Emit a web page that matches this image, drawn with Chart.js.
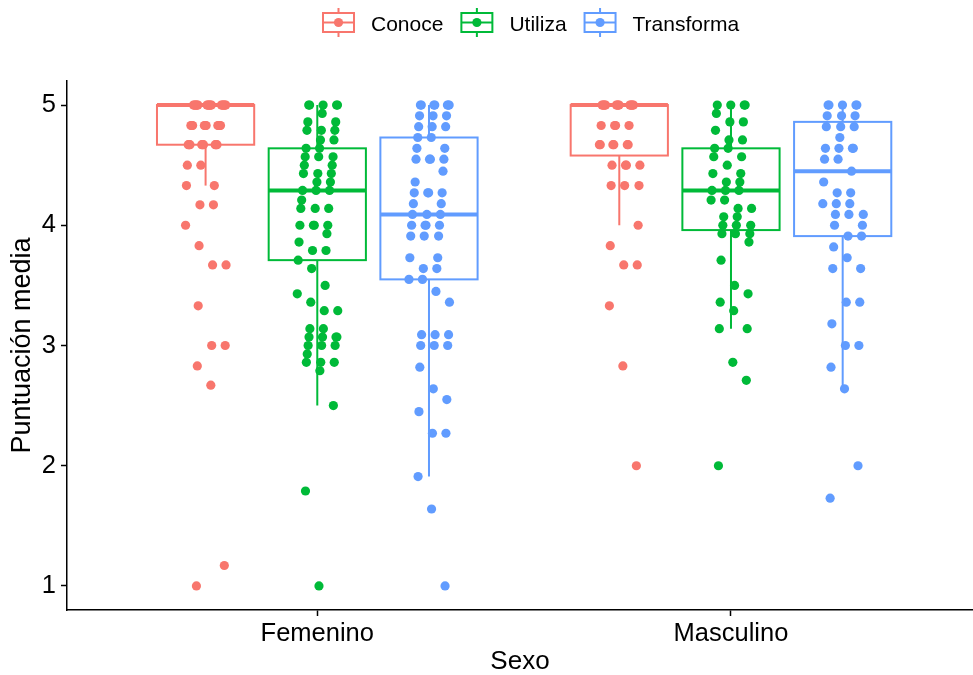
<!DOCTYPE html>
<html>
<head>
<meta charset="utf-8">
<script src="https://cdn.jsdelivr.net/npm/chart.js@4.4.0/dist/chart.umd.min.js"></script>
<style>
  html, body { margin: 0; padding: 0; background: #ffffff; }
  #wrap { width: 973px; height: 675px; }
</style>
</head>
<body>
<div id="wrap"><canvas id="grafico" width="973" height="675"></canvas></div>
<script>
// Categories and series
const sexos = ['Femenino', 'Masculino'];
const series = ['Conoce', 'Utiliza', 'Transforma'];
const colores = ['#F8766D', '#00BA38', '#619CFF'];
const yTicks = [1, 2, 3, 4, 5];

// Individual mean scores, Femenino
const conoceFem = [5,5,5,5,5,5,5,5,5,5,5,5,5,5,5,5,5,5,
  4.83,4.83,4.83,4.83,4.83,4.83,4.83,4.83,4.83,4.83,
  4.67,4.67,4.67,4.67,4.67,4.67,4.67,4.67,4.67,
  4.5,4.5,4.33,4.33,4.17,4.17,4,3.83,3.67,3.67,3.33,3,3,2.83,2.67,1.17,1];
const utilizaFem = [5,5,5,5,5,4.93,4.86,4.86,4.79,4.79,4.79,4.71,4.71,4.64,4.64,
  4.57,4.57,4.57,4.5,4.5,4.43,4.43,4.43,4.36,4.36,4.29,4.29,4.29,4.21,
  4.14,4.14,4.14,4,4,4,4,3.93,3.86,3.79,3.79,3.71,3.64,3.5,3.43,3.36,
  3.29,3.29,3.14,3.14,3.07,3.07,3.07,3.07,3,3,3,2.93,2.86,2.86,2.86,2.79,
  2.5,1.79,1];
const transformaFem = [5,5,5,5,5,5,5,4.91,4.91,4.91,4.82,4.82,4.82,4.73,4.73,
  4.64,4.64,4.55,4.55,4.55,4.55,4.45,4.36,4.27,4.27,4.27,4.27,4.18,4.18,
  4.09,4.09,4.09,4,4,4,4,3.91,3.91,3.91,3.73,3.73,3.64,3.64,3.55,3.55,
  3.45,3.36,3.09,3.09,3.09,3,3,3,2.82,2.64,2.55,2.45,2.27,2.27,1.91,1.64,1];

// Individual mean scores, Masculino
const conoceMas = [5,5,5,5,5,5,5,5,5,5,5,5,5,5,
  4.83,4.83,4.83,4.83,4.67,4.67,4.67,4.67,4.67,4.67,
  4.5,4.5,4.5,4.5,4.33,4.33,4.33,4,3.83,3.67,3.67,3.33,2.83,2];
const utilizaMas = [5,5,5,5,4.93,4.86,4.86,4.79,4.71,4.71,4.64,4.64,4.57,4.57,
  4.5,4.43,4.43,4.36,4.36,4.29,4.29,4.29,4.21,4.21,4.14,4.14,4.07,4.07,
  4,4,4,3.93,3.93,3.93,3.86,3.71,3.5,3.43,3.36,3.29,3.14,3.14,2.86,2.71,2];
const transformaMas = [5,5,5,5,5,4.91,4.91,4.91,4.82,4.82,4.82,4.73,
  4.64,4.64,4.64,4.64,4.55,4.55,4.45,4.36,4.27,4.27,4.18,4.18,4.18,
  4.09,4.09,4.09,4,4,3.91,3.91,3.82,3.73,3.64,3.64,3.36,3.36,3.18,3,3,
  2.82,2.64,2,1.73];

// Box summaries per series: [Femenino, Masculino]
const bigoteInf = { Conoce: [4.33, 4.0],  Utiliza: [2.5, 3.14],  Transforma: [1.91, 2.64] };
const cuartil1  = { Conoce: [4.67, 4.58], Utiliza: [3.71, 3.96], Transforma: [3.55, 3.91] };
const mediana   = { Conoce: [5, 5],       Utiliza: [4.29, 4.29], Transforma: [4.09, 4.45] };
const cuartil3  = { Conoce: [5, 5],       Utiliza: [4.64, 4.64], Transforma: [4.73, 4.86] };
const bigoteSup = { Conoce: [5, 5],       Utiliza: [5, 5],       Transforma: [5, 5] };

const puntos = {
  Conoce: [conoceFem, conoceMas],
  Utiliza: [utilizaFem, utilizaMas],
  Transforma: [transformaFem, transformaMas]
};

// Layout of the dodged groups (in x-axis units)
const DODGE = [-0.27, 0, 0.27];
const BOX_W = 0.235;
const JITTER = 0.05;
const FONT = '"Liberation Sans", Arial, Helvetica, sans-serif';

// Evenly spread horizontal offsets for the points (golden-ratio sequence)
function desplazamiento(i) {
  const f = ((i + 1) * 0.6180339887 + 0.37) % 1;
  return (f - 0.5) * 2 * JITTER;
}

const datasets = series.map((s, si) => {
  const data = [];
  puntos[s].forEach((valores, gi) => {
    valores.forEach((v, i) => {
      data.push({ x: gi + 1 + DODGE[si] + desplazamiento(i * 7 + gi * 3), y: v });
    });
  });
  return {
    label: s,
    data,
    backgroundColor: colores[si],
    borderColor: colores[si],
    borderWidth: 0,
    pointRadius: 4.6,
    pointHoverRadius: 4.6
  };
});

// Boxes and whiskers, drawn beneath the jittered points
const cajasPlugin = {
  id: 'cajas',
  beforeDatasetsDraw(chart) {
    const { ctx, scales: { x, y } } = chart;
    ctx.save();
    series.forEach((s, si) => {
      sexos.forEach((_, gi) => {
        const cx = gi + 1 + DODGE[si];
        const l = x.getPixelForValue(cx - BOX_W / 2);
        const r = x.getPixelForValue(cx + BOX_W / 2);
        const c = x.getPixelForValue(cx);
        const yLo = y.getPixelForValue(bigoteInf[s][gi]);
        const yQ1 = y.getPixelForValue(cuartil1[s][gi]);
        const yMed = y.getPixelForValue(mediana[s][gi]);
        const yQ3 = y.getPixelForValue(cuartil3[s][gi]);
        const yHi = y.getPixelForValue(bigoteSup[s][gi]);
        ctx.strokeStyle = colores[si];
        ctx.lineWidth = 2;
        ctx.beginPath();
        ctx.moveTo(c, yHi); ctx.lineTo(c, yQ3);
        ctx.moveTo(c, yQ1); ctx.lineTo(c, yLo);
        ctx.stroke();
        ctx.fillStyle = '#ffffff';
        ctx.fillRect(l, yQ3, r - l, yQ1 - yQ3);
        ctx.strokeRect(l, yQ3, r - l, yQ1 - yQ3);
        ctx.lineWidth = 4;
        ctx.beginPath();
        ctx.moveTo(l, yMed); ctx.lineTo(r, yMed);
        ctx.stroke();
      });
    });
    ctx.restore();
  }
};

// Legend at the top with boxplot key glyphs
const leyendaPlugin = {
  id: 'leyendaCajas',
  afterDraw(chart) {
    const ctx = chart.ctx;
    ctx.save();
    ctx.font = '21px ' + FONT;
    const keyW = 31, keyH = 19, keyTop = 13, gapTexto = 17, gapItem = 18;
    let xPos = 323;
    series.forEach((s, si) => {
      const col = colores[si];
      const cx = xPos + keyW / 2, cy = keyTop + keyH / 2;
      ctx.strokeStyle = col;
      ctx.lineWidth = 2;
      ctx.beginPath();
      ctx.moveTo(cx, keyTop - 5); ctx.lineTo(cx, keyTop);
      ctx.moveTo(cx, keyTop + keyH); ctx.lineTo(cx, keyTop + keyH + 5);
      ctx.stroke();
      ctx.strokeRect(xPos, keyTop, keyW, keyH);
      ctx.beginPath();
      ctx.moveTo(xPos, cy); ctx.lineTo(xPos + keyW, cy);
      ctx.stroke();
      ctx.fillStyle = col;
      ctx.beginPath();
      ctx.arc(cx, cy, 4.6, 0, Math.PI * 2);
      ctx.fill();
      ctx.fillStyle = '#000000';
      ctx.textBaseline = 'alphabetic';
      ctx.textAlign = 'left';
      const tx = xPos + keyW + gapTexto;
      ctx.fillText(s, tx, 31);
      xPos = tx + ctx.measureText(s).width + gapItem;
    });
    ctx.restore();
  }
};

new Chart(document.getElementById('grafico'), {
  type: 'scatter',
  data: { datasets },
  plugins: [cajasPlugin, leyendaPlugin],
  options: {
    responsive: false,
    animation: false,
    devicePixelRatio: 1,
    layout: { autoPadding: false, padding: { top: 81, right: 0, left: 0, bottom: 0 } },
    plugins: { legend: { display: false }, tooltip: { enabled: false } },
    scales: {
      x: {
        type: 'linear',
        min: 0.395,
        max: 2.585,
        afterBuildTicks(scale) { scale.ticks = [{ value: 1 }, { value: 2 }]; },
        afterFit(scale) { scale.height = 65; },
        ticks: {
          autoSkip: false,
          maxRotation: 0,
          color: '#000000',
          padding: 3,
          font: { family: FONT, size: 25.5 },
          callback: (v) => sexos[Math.round(v) - 1]
        },
        grid: { drawOnChartArea: false, drawTicks: true, tickLength: 6, tickColor: '#000000', tickWidth: 1.5 },
        border: { display: true, color: '#000000', width: 1.5 },
        title: { display: true, text: 'Sexo', color: '#000000', font: { family: FONT, size: 26, lineHeight: 1.0 }, padding: { top: 0, bottom: 0 } }
      },
      y: {
        type: 'linear',
        min: 0.8,
        max: 5.2,
        afterBuildTicks(scale) { scale.ticks = yTicks.map(v => ({ value: v })); },
        afterFit(scale) { scale.width = 67; },
        ticks: {
          color: '#000000',
          padding: 5,
          font: { family: FONT, size: 25.5 },
          callback: (v) => String(v)
        },
        grid: { drawOnChartArea: false, drawTicks: true, tickLength: 6, tickColor: '#000000', tickWidth: 1.5 },
        border: { display: true, color: '#000000', width: 1.5 },
        title: { display: true, text: 'Puntuación media', color: '#000000', font: { family: FONT, size: 27 }, padding: { top: 6, bottom: 0 } }
      }
    }
  }
});
</script>
</body>
</html>
